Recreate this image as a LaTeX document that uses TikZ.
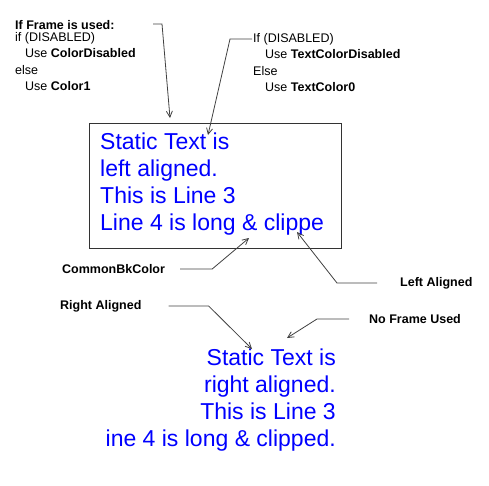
\documentclass[tikz,border=0pt]{standalone}
\usepackage{fontspec}
\setmainfont{Liberation Sans}
\usetikzlibrary{positioning, arrows.meta}

\begin{document}
\begin{tikzpicture}[x=1pt, y=-1pt,
        note/.style = {font=\fontsize{12.5}{16.5}\selectfont, inner sep=0pt, align=left},
        tag/.style = {font=\fontsize{12.5}{16.5}\selectfont\bfseries, inner sep=0pt, anchor=west},
        bluetext/.style = {text=blue, font=\fontsize{23}{27}\selectfont, inner sep=0pt},
        frame/.style = {rectangle, draw=black!80, line width=0.8pt, inner sep=0pt, minimum width=252pt, minimum height=125pt},
        pointer/.style = {draw=black!75, line width=0.8pt, -{Straight Barb[length=6pt, width=6pt]}}
    ]
        \useasboundingbox (0,0) rectangle (489,485);

        % Framed, left aligned text
        \node[frame, anchor=north west] (box) at (89,123) {};
        \node[bluetext, align=left, anchor=north west] (lefttext) at (100,133)
            {Static Text is\\left aligned.\\This is Line 3\\Line 4 is long \& clippe};

        % Unframed, right aligned text
        \node[bluetext, align=right, anchor=north east] (righttext) at (336,349)
            {Static Text is\\right aligned.\\This is Line 3\\ine 4 is long \& clipped.};

        % Notes
        \node[note, anchor=north west] (framenote) at (15,20)
            {\textbf{If Frame is used:}\\[-4.5pt]if (DISABLED)\\\hspace*{10pt}Use \textbf{ColorDisabled}\\else\\\hspace*{10pt}Use \textbf{Color1}};
        \node[note, anchor=north west] (colornote) at (253,33)
            {If (DISABLED)\\\hspace*{12pt}Use \textbf{TextColorDisabled}\\Else\\\hspace*{12pt}Use \textbf{TextColor0}};
        \node[tag] (bktag) at (62,269) {CommonBkColor};
        \node[tag] (lefttag) at (400,283) {Left Aligned};
        \node[tag] (righttag) at (60,306) {Right Aligned};
        \node[tag] (noframetag) at (369,319) {No Frame Used};

        % Pointer ends
        \coordinate (framestart) at (153,24);
        \coordinate (frametip) at (170,118);
        \coordinate (colorstart) at (252,39);
        \coordinate (colortip) at (208,135);
        \coordinate (bktip) at (249,238);
        \coordinate (lefttip) at (297,232);
        \coordinate (righttip) at (252,349);
        \coordinate (noframetip) at (287,338);

        % Pointers
        \draw[pointer] (framestart) -- ++(9,0) -- (frametip);
        \draw[pointer] (colorstart) -- ++(-22,0) -- (colortip);
        \draw[pointer] ([xshift=15pt]bktag.east) -- ++(32,0) -- (bktip);
        \draw[pointer] ([xshift=-23pt]lefttag.west) -- ++(-40,0) -- (lefttip);
        \draw[pointer] ([xshift=27pt]righttag.east) -- ++(40,0) -- (righttip);
        \draw[pointer] ([xshift=-20pt]noframetag.west) -- ++(-32,0) -- (noframetip);
    \end{tikzpicture}
\end{document}
